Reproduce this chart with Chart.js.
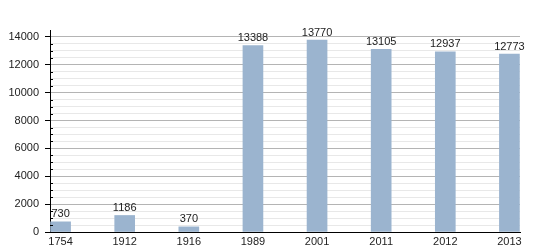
<!DOCTYPE html>
<html>
<head>
<meta charset="utf-8">
<script src="https://cdn.jsdelivr.net/npm/chart.js@4"></script>
<style>
	body { margin: 0; background: #fff; }
	canvas { display: block; }
</style>
</head>
<body>
<canvas id="canvas-chart-bar-poblacion" width="550" height="250"></canvas>
<script>
var anios = ['1754', '1912', '1916', '1989', '2001', '2011', '2012', '2013'];
var poblacion = [730, 1186, 370, 13388, 13770, 13105, 12937, 12773];
var ticksY = [0, 2000, 4000, 6000, 8000, 10000, 12000, 14000];

var fuente = { family: '"Liberation Sans", Arial, sans-serif', size: 11 };

// etiquetas de valor encima de cada barra
var pluginValores = {
	id: 'valores',
	afterDatasetsDraw: function(chart) {
		var ctx = chart.ctx;
		var meta = chart.getDatasetMeta(0);
		ctx.save();
		ctx.font = '11px ' + fuente.family;
		ctx.fillStyle = '#222';
		ctx.textAlign = 'center';
		ctx.textBaseline = 'bottom';
		meta.data.forEach(function(barra, i) {
			ctx.fillText(poblacion[i], barra.x, barra.y - 2);
		});
		ctx.restore();
	}
};

// marcas menores hacia dentro del eje y
var pluginMarcasMenores = {
	id: 'marcasMenores',
	afterDraw: function(chart) {
		var ctx = chart.ctx;
		var y = chart.scales.y;
		ctx.save();
		ctx.strokeStyle = '#000';
		ctx.lineWidth = 1;
		y.ticks.forEach(function(t) {
			if (t.value % 2000 !== 0 && t.value < y.max) {
				var py = Math.round(y.getPixelForValue(t.value)) + 0.5;
				ctx.beginPath();
				ctx.moveTo(y.right, py);
				ctx.lineTo(y.right + 3, py);
				ctx.stroke();
			}
		});
		ctx.restore();
	}
};

var datos = anios.map(function(a, i) { return { x: i, y: poblacion[i] }; });

new Chart(document.getElementById('canvas-chart-bar-poblacion').getContext('2d'), {
	type: 'bar',
	data: {
		datasets: [{
			label: 'Población',
			data: datos,
			backgroundColor: '#9bb4cf',
			borderWidth: 0,
			barThickness: 20
		}]
	},
	options: {
		responsive: false,
		animation: false,
		devicePixelRatio: 1,
		layout: { padding: { top: 30, right: 30, left: 0, bottom: 0 } },
		plugins: {
			legend: { display: false },
			tooltip: { enabled: false }
		},
		scales: {
			x: {
				type: 'linear',
				min: -0.165,
				max: 7.165,
				offset: false,
				grid: { display: false, drawTicks: false, tickLength: 0 },
				border: { display: true, color: '#000', width: 1 },
				afterBuildTicks: function(scale) {
					scale.ticks = anios.map(function(a, i) { return { value: i }; });
				},
				afterFit: function(scale) { scale.height = 18; },
				ticks: {
					autoSkip: false,
					maxRotation: 0,
					padding: 3,
					color: '#222',
					font: fuente,
					callback: function(v) { return anios[v]; }
				}
			},
			y: {
				min: 0,
				max: 14500,
				afterFit: function(scale) { scale.width = 50; },
				border: { display: true, color: '#000', width: 1 },
				grid: {
					tickLength: 5,
					color: function(c) {
						var v = c.tick.value;
						if (v === 0 || v >= 14500) return 'rgba(0,0,0,0)';
						return ticksY.indexOf(v) >= 0 ? '#b4b4b4' : '#e8e8e8';
					},
					tickColor: function(c) {
						return ticksY.indexOf(c.tick.value) >= 0 ? '#000' : 'rgba(0,0,0,0)';
					}
				},
				ticks: {
					stepSize: 500,
					autoSkip: false,
					padding: 6,
					color: '#222',
					font: fuente,
					callback: function(v) { return ticksY.indexOf(v) >= 0 ? v : ''; }
				}
			}
		}
	},
	plugins: [pluginValores, pluginMarcasMenores]
});
</script>
</body>
</html>
